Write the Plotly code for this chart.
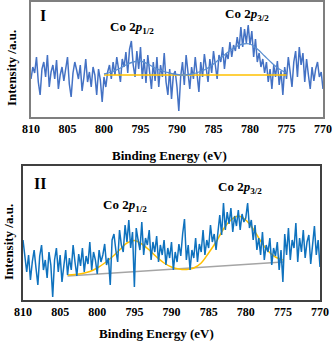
import plotly.graph_objects as go

STEP = 0.25  # eV between raw points, 810 -> 770

# ---- panel I ----
raw_1 = [38, 50, 44, 60, 35, 22, 48, 55, 40, 62, 30, 45, 52, 38, 57, 28, 42, 50, 36, 48,
         60, 33, 20, 44, 55, 47, 38, 52, 26, 40, 58, 35, 45, 30, 50, 42, 22, 48, 37, 15,
         40, 30, 45, 52, 38, 55, 42, 60, 47, 35, 58, 50, 65, 44, 68, 76, 52, 40, 66, 48,
         70, 38, 58, 34, 62, 45, 28, 55, 36, 60, 30, 52, 40, 64, 35, 22, 48, 18, 42, 46,
         30, 6, 40, 55, 32, 62, 45, 28, 50, 38, 60, 42, 25, 55, 40, 63, 48, 35, 58, 44,
         66, 50, 38, 62, 55, 70, 48, 64, 58, 75, 60, 72, 66, 80, 68, 90, 70, 88, 74, 92,
         72, 86, 60, 78, 55, 64, 50, 58, 44, 55, 35, 48, 28, 52, 40, 56, 32, 46, 22, 50,
         38, 60, 45, 30, 55, 66, 40, 70, 52, 64, 35, 58, 42, 28, 50, 36, 48, 55, 40, 45,
         28]
fit_e_1 = [800, 799, 798, 797, 796, 795, 794, 793, 792, 791, 790, 789, 788, 787,
           786, 785, 784, 783, 782, 781, 780, 779, 778, 777, 776, 775]
fit_1 = [43, 45, 48, 52, 55, 56, 53, 49, 46, 44, 42.5, 42, 43, 45,
         48, 53, 59, 65, 70, 73, 73, 68, 61, 54, 48, 44]
base_e_1 = [800, 775]
base_1 = [42, 42]

# ---- panel II ----
raw_2 = [60, 42, 28, 45, 20, 38, 50, 32, 15, 44, 55, 30, 40, 22, 48, 35, 3, 40, 52, 28,
         45, 18, 38, 50, 25, 42, 30, 55, 38, 24, 46, 34, 52, 28, 44, 36, 58, 30, 48, 40,
         26, 50, 38, 45, 56, 35, 42, 15, 60, 66, 50, 38, 70, 55, 48, 75, 58, 80, 52, 68,
         13, 72, 60, 50, 78, 45, 62, 55, 70, 40, 58, 48, 64, 38, 55, 45, 60, 35, 52, 42,
         58, 30, 48, 38, 56, 44, 66, 81, 40, 55, 30, 50, 42, 62, 38, 56, 48, 70, 45, 60,
         52, 75, 58, 66, 50, 72, 85, 65, 97, 70, 88, 76, 92, 68, 84, 74, 90, 70, 86, 78,
         82, 97, 72, 80, 60, 75, 50, 62, 45, 68, 40, 55, 48, 62, 35, 52, 44, 58, 30, 50,
         18, 66, 45, 72, 40, 60, 52, 77, 38, 62, 48, 70, 42, 58, 65, 36, 55, 74, 45, 60,
         33]
fit_e_2 = [804, 803, 802, 801, 800, 799, 798, 797, 796, 795, 794, 793, 792, 791, 790,
           789, 788, 787, 786, 785, 784, 783, 782, 781, 780, 779, 778, 777, 776, 775]
fit_2 = [25, 25.5, 26.5, 28.5, 32, 37, 43, 50, 57, 59.5, 56, 50, 43, 37, 33,
         31, 30.5, 32, 37, 47, 58, 71, 80, 84, 80, 71, 59, 49, 43, 40]
base_e_2 = [804, 775]
base_2 = [24, 38]

W, H = 333, 341
SERIF = "Liberation Serif"


def px_x(p):
    return p / W


def px_y(p):
    return 1 - p / H


energy_1 = [810 - STEP * i for i in range(len(raw_1))]
energy_2 = [810 - STEP * i for i in range(len(raw_2))]

fig = go.Figure()
fig.add_scatter(x=energy_1, y=raw_1, mode="lines", line=dict(color="#4472C4", width=1.5),
                xaxis="x", yaxis="y")
fig.add_scatter(x=base_e_1, y=base_1, mode="lines", line=dict(color="#FFC000", width=1.5),
                xaxis="x", yaxis="y")
fig.add_scatter(x=fit_e_1, y=fit_1, mode="lines", line=dict(color="#5B8FD0", width=1.3, shape="spline"),
                xaxis="x", yaxis="y")

fig.add_scatter(x=base_e_2, y=base_2, mode="lines", line=dict(color="#A5A5A5", width=1.5),
                xaxis="x2", yaxis="y2")
fig.add_scatter(x=fit_e_2, y=fit_2, mode="lines", line=dict(color="#FFC000", width=1.5, shape="spline"),
                xaxis="x2", yaxis="y2")
fig.add_scatter(x=energy_2, y=raw_2, mode="lines", line=dict(color="#0F72BE", width=1.5),
                xaxis="x2", yaxis="y2")

xcommon = dict(range=[810, 770], tickmode="array", tickvals=list(range(810, 769, -5)),
               showline=True, mirror=True, linewidth=1.5, showgrid=False, zeroline=False,
               ticks="", automargin=False,
               tickfont=dict(family=SERIF, size=12, color="black", weight="bold"))
ycommon = dict(showline=True, mirror=True, linewidth=1.5, showgrid=False, zeroline=False,
               showticklabels=False, ticks="", automargin=False)

fig.update_layout(
    width=W, height=H, margin=dict(l=0, r=0, t=0, b=0),
    plot_bgcolor="white", paper_bgcolor="white", showlegend=False,
    xaxis=dict(xcommon, domain=[px_x(31), px_x(323)], anchor="y", linecolor="#7F7F7F"),
    yaxis=dict(ycommon, domain=[px_y(117), px_y(2)], range=[0, 115], anchor="x",
               linecolor="#7F7F7F"),
    xaxis2=dict(xcommon, domain=[px_x(23), px_x(320)], anchor="y2", linecolor="#404040"),
    yaxis2=dict(ycommon, domain=[px_y(300), px_y(166)], range=[0, 134], anchor="x2",
                linecolor="#404040"),
)

labels = [
    ("I", 43, 16, 16, 0),
    ("Co 2<i>p</i><sub>1/2</sub>", 132, 27, 13, 0),
    ("Co 2<i>p</i><sub>3/2</sub>", 247, 15, 13, 0),
    ("II", 40, 183, 16, 0),
    ("Co 2<i>p</i><sub>1/2</sub>", 125, 205, 13, 0),
    ("Co 2<i>p</i><sub>3/2</sub>", 240, 188, 13, 0),
    ("Binding Energy (eV)", 169, 155, 13, 0),
    ("Binding Energy (eV)", 156, 333, 13, 0),
    ("Intensity /a.u.", 11, 68, 13, -90),
    ("Intensity /a.u.", 8, 242, 13, -90),
]
for text, x, y, size, angle in labels:
    fig.add_annotation(text=text, x=px_x(x), y=px_y(y), xref="paper", yref="paper",
                       showarrow=False, xanchor="center", yanchor="middle", textangle=angle,
                       font=dict(family=SERIF, size=size, color="black", weight="bold"))

# the page's default 8px body margin would push the figure off the window
fig.write_html("out.html", config={"displayModeBar": False},
               post_script="document.body.style.margin = '0';")
